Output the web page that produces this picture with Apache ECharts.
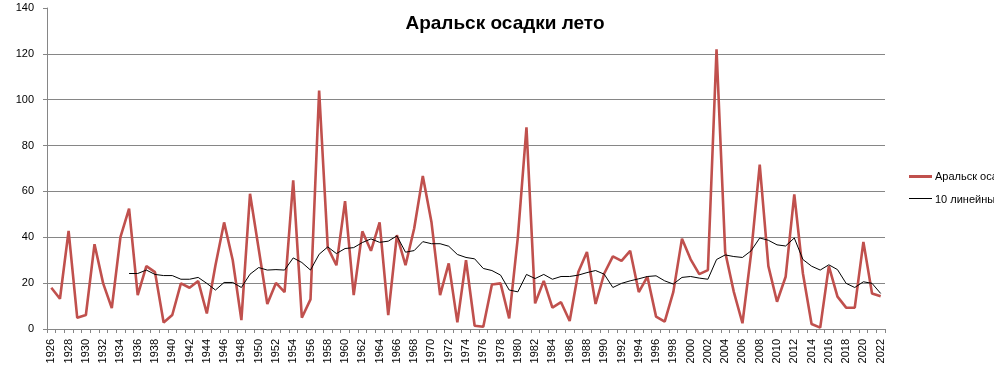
<!DOCTYPE html>
<html>
<head>
<meta charset="utf-8">
<script src="https://cdn.jsdelivr.net/npm/echarts@6/dist/echarts.min.js"></script>
<style>
html,body{margin:0;padding:0;background:#fff;}
#chart{width:994px;height:372px;}
</style>
</head>
<body>
<div id="chart"></div>
<script>
const years = ['1926','1927','1928','1929','1930','1931','1932','1933','1934','1935',
'1936','1937','1938','1939','1940','1941','1942','1943','1944','1945',
'1946','1947','1948','1949','1950','1951','1952','1953','1954','1955',
'1956','1957','1958','1959','1960','1961','1962','1963','1964','1965',
'1966','1967','1968','1969','1970','1971','1972','1973','1974','1975',
'1976','1977','1978','1979','1980','1981','1982','1983','1984','1985',
'1986','1987','1988','1989','1990','1991','1992','1993','1994','1995',
'1996','1997','1998','1999','2000','2001','2002','2003','2004','2005',
'2006','2007','2008','2009','2010','2011','2012','2013','2014','2015',
'2016','2017','2018','2019','2020','2021','2022'];

const precip = [18.0,13.2,42.8,4.9,6.1,37.0,19.9,9.1,40.1,52.5,
14.8,27.4,24.8,2.8,6.1,19.9,18.0,20.9,6.8,27.8,
46.5,30.0,3.9,59.0,35.0,10.9,20.1,16.1,64.8,4.9,
12.9,104.0,35.5,27.8,55.8,14.8,42.6,34.1,46.5,6.1,
40.9,27.8,43.8,66.7,46.7,14.8,28.6,2.9,30.0,1.4,
1.0,19.4,19.9,4.6,40.0,88.0,11.2,21.0,9.3,11.7,
3.5,24.9,33.6,10.9,24.2,31.7,29.7,34.1,16.1,22.8,
5.4,3.2,16.2,39.4,30.4,23.9,25.7,122.0,33.6,16.2,
2.5,32.9,71.7,27.4,11.9,22.8,58.7,24.2,2.2,0.6,
27.4,14.1,9.3,9.3,38.0,15.5,14.3];

const movingAvg = [null,null,null,null,null,null,null,null,null,24.2,
24.2,25.7,23.8,23.3,23.3,21.7,21.7,22.5,19.9,17.0,
20.3,20.3,18.1,23.9,26.8,25.7,25.9,25.7,31.0,29.0,
25.7,32.6,35.8,32.9,35.1,35.5,37.7,39.3,37.8,38.3,
40.6,33.5,34.2,38.1,37.2,37.2,36.1,32.5,31.2,30.6,
26.4,25.5,23.5,17.0,16.2,23.8,22.0,23.8,21.7,22.9,
22.9,23.5,24.6,25.5,23.9,18.1,19.9,21.0,21.9,22.9,
23.2,21.0,19.6,22.5,22.9,22.2,21.7,30.3,32.3,31.6,
31.2,34.1,39.7,38.7,36.7,36.2,39.7,30.3,27.4,25.7,
28.0,25.9,19.9,18.1,20.6,19.9,15.5];

const seriesNames = ['Аральск осадки лето','10 линейный фильтр (Аральск осадки лето)'];
const titleText = 'Аральск осадки лето';

const chart = echarts.init(document.getElementById('chart'), null, {renderer:'canvas'});
const font = 'Liberation Sans, Arial, sans-serif';
chart.setOption({
  animation:false,
  backgroundColor:'#ffffff',
  title:{
    text:titleText,
    left:500, top:9, textAlign:'center',
    textStyle:{fontFamily:font,fontSize:19,fontWeight:'bold',color:'#000'}
  },
  legend:{
    orient:'vertical',
    left:904, top:166,
    icon:'none',
    itemWidth:23, itemHeight:10, itemGap:12,
    textStyle:{fontFamily:font,fontSize:11,color:'#000',padding:[0,0,0,-2]},
    data:[{name:seriesNames[0]},{name:seriesNames[1]}]
  },
  graphic:[
    {type:'line',shape:{x1:909,y1:176.5,x2:932,y2:176.5},style:{stroke:'#C0504D',lineWidth:3},silent:true},
    {type:'line',shape:{x1:909,y1:198.5,x2:932,y2:198.5},style:{stroke:'#000000',lineWidth:1},silent:true}
  ],
  grid:{left:47,right:109,top:8,bottom:43,containLabel:false},
  xAxis:{
    type:'category',
    data:years,
    boundaryGap:true,
    axisLine:{lineStyle:{color:'#868686',width:1}},
    axisTick:{show:true,interval:0,length:4,lineStyle:{color:'#868686'}},
    axisLabel:{interval:1,rotate:90,fontFamily:font,fontSize:11,color:'#000',margin:10}
  },
  yAxis:{
    type:'value',
    min:0,max:140,interval:20,
    axisLine:{show:true,lineStyle:{color:'#868686',width:1}},
    axisTick:{show:true,length:4,lineStyle:{color:'#868686'}},
    axisLabel:{fontFamily:font,fontSize:11,color:'#000',margin:13},
    splitLine:{show:true,showMaxLine:false,lineStyle:{color:'#868686',width:1}}
  },
  series:[
    {
      name:seriesNames[0],type:'line',data:precip,
      symbol:'none',showSymbol:false,
      lineStyle:{color:'#C0504D',width:2.6},
      itemStyle:{color:'#C0504D'},
      z:2
    },
    {
      name:seriesNames[1],type:'line',data:movingAvg,
      symbol:'none',showSymbol:false,connectNulls:false,
      lineStyle:{color:'#000000',width:1},
      itemStyle:{color:'#000000'},
      z:3
    }
  ]
});
</script>
</body>
</html>
